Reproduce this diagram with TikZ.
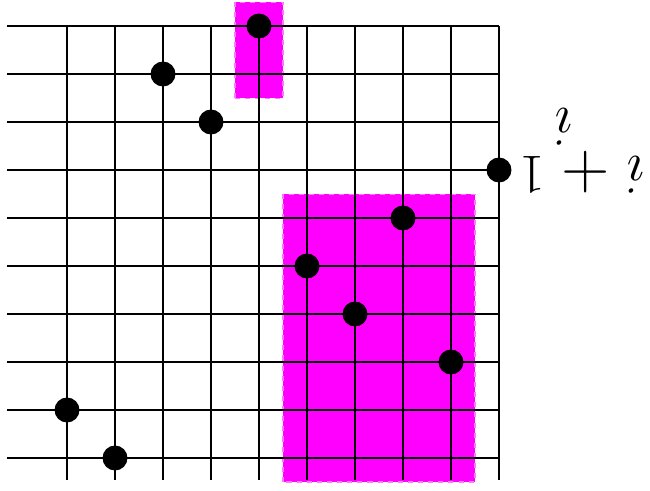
\documentclass[tikz,border=0pt]{standalone}
\usepackage{graphicx}
\definecolor{hmag}{RGB}{255,0,255}
\definecolor{hmagedge}{RGB}{255,120,255}
\begin{document}
\begin{tikzpicture}[x=1cm,y=1cm,
  gridline/.style={black,line width=0.8pt},
  dot/.style={circle,fill=black,inner sep=0pt,minimum size=0.52cm},
  hilite/.style={fill=hmag,draw=hmagedge,dashed,line width=0.6pt},
  lbl/.style={rotate=180,inner sep=0pt,font=\huge}]
\useasboundingbox (-1.396,-0.667) rectangle (12.146,9.542);
% highlighted regions
\fill[hilite] (3.5,7.5) rectangle (4.5,9.5);
\fill[hilite] (4.5,-0.5) rectangle (8.5,5.5);
\draw[hilite,fill=none] (3.5,7.5) rectangle (4.5,9.5);
\draw[hilite,fill=none] (4.5,-0.5) rectangle (8.5,5.5);
% grid
\foreach \j in {0,...,9} \draw[gridline] (-1.25,\j) -- (9,\j);
\foreach \c in {0,...,9} \draw[gridline] (\c,-0.46) -- (\c,9);
% points
\node[dot] (p0) at (0,1) {};
\node[dot] (p1) at (1,0) {};
\node[dot] (p2) at (2,8) {};
\node[dot] (p3) at (3,7) {};
\node[dot] (p4) at (4,9) {};
\node[dot] (p5) at (5,4) {};
\node[dot] (p6) at (6,3) {};
\node[dot] (p7) at (7,5) {};
\node[dot] (p8) at (8,2) {};
\node[dot] (p9) at (9,6) {};
% rotated label
\node[lbl] (one) at (9.70,5.90) {\scalebox{1.6}{$1$}};
\node[lbl] (plus) at (10.81,5.95) {\scalebox{1.9}{$+$}};
\node[lbl] (iright) at (11.83,5.90) {\scalebox{1.6}{$i$}};
\node[lbl] (iup) at (10.33,6.90) {\scalebox{1.6}{$i$}};
\end{tikzpicture}
\end{document}
